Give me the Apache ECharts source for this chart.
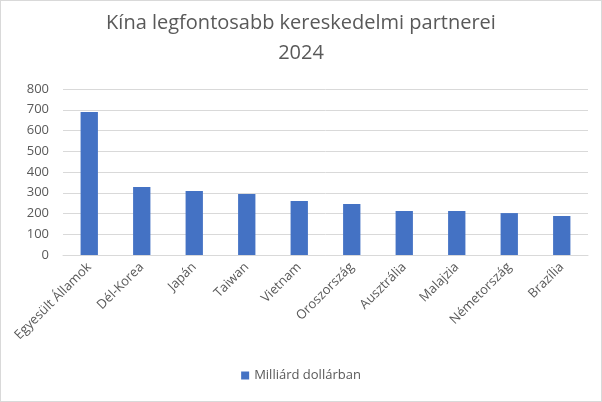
<!DOCTYPE html>
<html lang="hu">
<head>
    <meta charset="UTF-8">
    <title>Kína kereskedelmi partnerei</title>
    <style>
        html, body { margin: 0; padding: 0; background: #fff; }
        #main { width: 600px; height: 400px; border: 1px solid #d9d9d9; }
    </style>
</head>
<body>
<div id="main"></div>
<script src="https://cdn.jsdelivr.net/npm/echarts@6/dist/echarts.min.js"></script>
<script>
    var countries = ['Egyesült Államok', 'Dél-Korea', 'Japán', 'Taiwan', 'Vietnam',
        'Oroszország', 'Ausztrália', 'Malajzia', 'Németország', 'Brazília'];
    var values = [689, 328, 308, 294, 260, 246, 212, 212, 202, 188];
    var seriesName = 'Milliárd dollárban';
    var yTicks = [0, 100, 200, 300, 400, 500, 600, 700, 800];

    var font = '"Open Sans", "Noto Sans", sans-serif';
    var myChart = echarts.init(document.getElementById('main'));
    var option = {
        backgroundColor: '#fff',
        animation: false,
        textStyle: { fontFamily: font },
        title: {
            text: 'Kína legfontosabb kereskedelmi partnerei\n2024',
            left: 'center',
            top: 2,
            textStyle: {
                color: '#595959',
                fontSize: 20,
                fontWeight: 'normal',
                lineHeight: 30,
                fontFamily: font
            }
        },
        legend: {
            bottom: 14,
            left: 'center',
            itemWidth: 8,
            itemHeight: 8,
            icon: 'rect',
            textStyle: { color: '#595959', fontSize: 13, fontFamily: font },
            data: [seriesName]
        },
        grid: {
            left: 62,
            right: 13,
            top: 88,
            bottom: 146
        },
        xAxis: {
            type: 'category',
            data: countries,
            axisLine: { lineStyle: { color: '#d9d9d9' } },
            axisTick: { show: false },
            axisLabel: {
                rotate: 45,
                interval: 0,
                color: '#595959',
                fontSize: 13,
                margin: 10,
                fontFamily: font
            }
        },
        yAxis: {
            type: 'value',
            min: yTicks[0],
            max: yTicks[yTicks.length - 1],
            interval: 100,
            axisLine: { show: false },
            axisTick: { show: false },
            axisLabel: { color: '#595959', fontSize: 13, margin: 14, fontFamily: font },
            splitLine: { lineStyle: { color: '#d9d9d9' } }
        },
        series: [{
            name: seriesName,
            type: 'bar',
            data: values,
            barWidth: '33%',
            itemStyle: { color: '#4472c4' }
        }]
    };
    myChart.setOption(option);
</script>
</body>
</html>
